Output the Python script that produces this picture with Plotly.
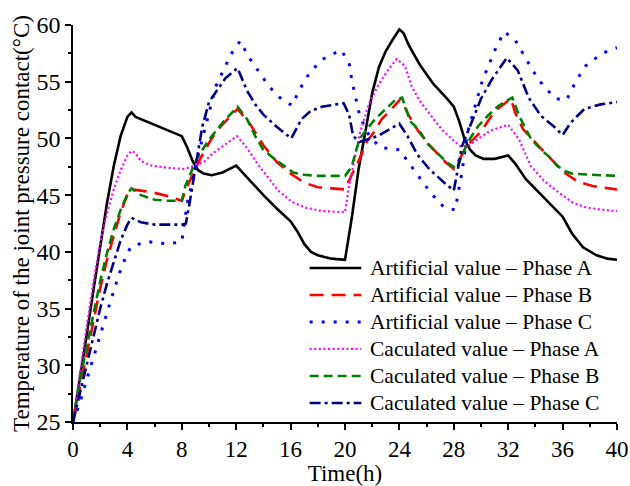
import plotly.graph_objects as go

# ---- data ----
t_art_a = [0, 0.5, 1, 1.5, 2, 2.5, 3, 3.5, 4, 4.3, 4.6, 5, 6, 7, 8, 8.4, 8.8, 9.2, 9.6, 10.2, 11, 12,
           13, 14, 15, 16, 16.5, 17, 17.5, 18, 19, 20, 20.5, 21, 21.5, 22, 22.5, 23, 23.5, 24, 24.3,
           24.7, 25.5, 26.5, 27.5, 28, 28.4, 28.8, 29.2, 29.6, 30.2, 31, 32, 32.5, 33.3, 34.5, 36,
           36.7, 37.5, 38.5, 39.3, 40]
v_art_a = [25, 28.6, 32.6, 36.6, 40.6, 44.3, 47.6, 50.2, 51.9, 52.3, 51.9, 51.7, 51.2, 50.7, 50.2, 49.2,
           48.0, 47.2, 46.9, 46.75, 47.0, 47.6, 46.3, 45.0, 43.8, 42.7, 41.8, 40.7, 40.0, 39.7, 39.4,
           39.3, 43.0, 47.3, 50.6, 54.0, 56.3, 57.7, 58.7, 59.6, 59.3, 58.2, 56.5, 54.8, 53.5, 52.8,
           51.5, 49.9, 49.0, 48.5, 48.2, 48.2, 48.5, 47.8, 46.4, 44.9, 43.1, 41.6, 40.4, 39.7, 39.4, 39.3]

t_art_b = [0, 0.5, 1, 1.5, 2, 2.5, 3, 3.5, 4, 4.3, 5, 6, 7, 8, 8.4, 9, 9.4, 10, 10.6, 11.6, 12.1, 13, 14,
           15, 16, 17, 18, 19, 20, 20.5, 21, 21.6, 22.1, 22.7, 23.2, 24.1, 24.7, 25.3, 26, 26.7, 27.4,
           28, 28.5, 29, 30, 31, 32.2, 32.5, 33.1, 34, 34.5, 35.3, 36, 37.1, 38.2, 39.4, 40]
v_art_b = [25, 28.0, 30.9, 33.9, 36.8, 39.3, 41.5, 43.5, 45.0, 45.5, 45.4, 45.2, 44.9, 44.5, 45.8, 47.3,
           48.3, 49.6, 50.7, 52.0, 52.6, 51.3, 49.4, 47.9, 46.9, 46.1, 45.7, 45.6, 45.5, 46.8, 48.0,
           49.7, 50.5, 51.7, 52.3, 53.5, 52.0, 50.8, 49.7, 48.8, 47.9, 47.3, 48.3, 49.4, 50.6, 52.4,
           53.5, 52.3, 50.8, 49.7, 49.0, 48.0, 47.1, 46.2, 45.8, 45.6, 45.5]

t_art_c = [0, 0.5, 1, 1.5, 2, 2.5, 3, 3.5, 4, 4.3, 5.5, 7, 8, 8.4, 8.75, 9.2, 9.6, 10.1, 10.5, 11.1, 11.6,
           12.3, 12.9, 13.6, 14.4, 15.2, 16.1, 16.7, 17.45, 18.4, 19.7, 20.3, 20.5, 20.8, 21.1, 21.8,
           22.6, 24, 24.8, 25.55, 26.3, 27.3, 28.1, 28.6, 29, 30.1, 31.1, 31.7, 32.5, 33.8, 34.6,
           35.5, 36.3, 37, 37.7, 38.9, 40]
v_art_c = [25, 26.7, 28.7, 30.7, 32.8, 34.8, 36.6, 38.4, 39.9, 40.5, 40.9, 40.7, 40.9, 44.3, 46.0, 48.5,
           50.4, 52.9, 54.6, 56.1, 57.4, 58.6, 57.2, 56.0, 54.6, 53.6, 52.9, 54.4, 55.9, 57.0, 57.8,
           56.7, 55.1, 53.5, 51.9, 50.2, 49.2, 49.0, 47.7, 46.4, 45.2, 43.9, 43.7, 47.0, 50.5, 55.1,
           58.0, 59.4, 58.7, 56.0, 54.6, 53.5, 53.4, 55.1, 56.4, 57.5, 58.0]

t_cal_a = [0, 0.5, 1, 1.5, 2, 2.5, 3, 3.5, 4, 4.3, 4.6, 5, 5.8, 7, 8.2, 8.9, 9.6, 10.3, 11.2, 12.05, 12.5,
           13, 13.6, 14.4, 15.1, 16.1, 17.1, 18.3, 20, 20.3, 20.7, 21.1, 21.75, 22.4, 23.2, 23.8, 24.4,
           24.9, 25.5, 26.3, 27.1, 28, 28.5, 29.2, 29.7, 30.7, 32, 32.8, 33.65, 34.6, 35.75, 36.8,
           37.8, 39, 40]
v_cal_a = [25, 29.3, 33.4, 37.3, 40.8, 43.4, 45.5, 47.2, 48.5, 48.9, 48.7, 48.0, 47.6, 47.4, 47.3, 47.6,
           47.9, 48.7, 49.5, 50.2, 49.6, 48.8, 47.7, 46.5, 45.4, 44.4, 43.9, 43.6, 43.5, 45.8, 48.3,
           50.5, 53.0, 54.6, 56.1, 57.0, 56.4, 54.6, 53.3, 52.0, 50.8, 49.8, 49.3, 49.4, 49.9, 50.7,
           51.2, 49.9, 47.6, 46.3, 45.2, 44.3, 43.9, 43.7, 43.6]

t_cal_b = [0, 0.5, 1, 1.5, 2, 2.5, 3, 3.5, 4, 4.3, 5, 6, 7, 8, 8.25, 9.1, 10, 11, 12.1, 12.8, 13.4, 14,
           14.7, 15.5, 16.2, 17, 18, 20, 20.5, 20.8, 21.1, 21.6, 22.2, 23.1, 23.7, 24.2, 24.8, 25.4,
           26.1, 26.7, 27.5, 28.2, 28.7, 29.2, 29.8, 30.5, 31.2, 32, 32.3, 32.8, 33.3, 33.7, 34.2,
           34.6, 35, 35.6, 36.2, 36.7, 38, 40]
v_cal_b = [25, 28.6, 31.6, 34.6, 37.4, 39.9, 42.0, 43.7, 45.1, 45.6, 45.0, 44.6, 44.5, 44.5, 45.8, 48.2,
           49.9, 51.4, 52.8, 51.7, 50.2, 49.0, 48.3, 47.6, 47.0, 46.8, 46.7, 46.7, 47.5, 48.9, 50.0,
           50.8, 51.7, 52.7, 53.4, 53.6, 51.5, 50.8, 49.5, 48.8, 47.9, 47.3, 48.8, 50.0, 51.1, 52.0,
           52.8, 53.4, 53.6, 52.0, 50.8, 49.9, 49.3, 48.8, 48.4, 47.6, 47.1, 46.9, 46.8, 46.7]

t_cal_c = [0, 0.5, 1, 1.5, 2, 2.5, 3, 3.5, 4, 4.3, 5, 6, 8, 8.3, 8.6, 9.0, 9.5, 10, 10.5, 11.2, 12.1, 12.8,
           13.4, 14, 15, 15.6, 16.05, 16.8, 17.45, 18.3, 19.3, 19.9, 20.3, 20.6, 21.1, 22.4, 24, 24.6,
           25.3, 26.2, 27.3, 28, 28.25, 28.6, 29.2, 30, 30.8, 31.9, 32.7, 33.5, 34.4, 35.4, 36, 36.6,
           37.6, 38.8, 40]
v_cal_c = [25, 27.5, 30.0, 32.5, 35.0, 37.2, 39.2, 41.0, 42.4, 43.0, 42.6, 42.4, 42.4, 42.5, 44.5, 47.5,
           51.0, 53.2, 54.1, 55.3, 56.2, 54.2, 53.0, 52.1, 51.0, 50.4, 50.0, 51.7, 52.4, 52.8, 53.0,
           53.1, 52.1, 50.2, 49.7, 50.2, 51.3, 50.2, 48.6, 47.3, 46.1, 45.4, 47.0, 49.3, 51.1, 53.5,
           55.2, 57.1, 56.0, 53.6, 52.0, 51.0, 50.3, 51.4, 52.6, 53.0, 53.2]

names = ["Artificial value – Phase A", "Artificial value – Phase B", "Artificial value – Phase C",
         "Caculated value – Phase A", "Caculated value – Phase B", "Caculated value – Phase C"]
x_ticks = [0, 4, 8, 12, 16, 20, 24, 28, 32, 36, 40]
y_ticks = [25, 30, 35, 40, 45, 50, 55, 60]

series = [(t_art_a, v_art_a), (t_art_b, v_art_b), (t_art_c, v_art_c),
          (t_cal_a, v_cal_a), (t_cal_b, v_cal_b), (t_cal_c, v_cal_c)]
styles = [("#000000", "solid", 2.6), ("#ff0000", "14px,8px", 2.6), ("#0000ff", "3px,9px", 3.0),
          ("#ff00ff", "2px,2.6px", 2.2), ("#008000", "9px,5px", 2.6), ("#000080", "11px,4px,3px,4px", 2.6)]

FONT = "Liberation Serif, Times New Roman, serif"

fig = go.Figure()
for (tx, vy), name, (col, dash, w) in zip(series, names, styles):
    fig.add_trace(go.Scatter(x=tx, y=vy, mode="lines", name=name, showlegend=False,
                             line=dict(color=col, dash=dash, width=w)))

# custom legend (paper coordinates), compact rows like the reference
leg_x0, leg_x1, leg_tx = 0.435, 0.53, 0.543
leg_top, leg_step = 0.388, 0.068
for i, (name, (col, dash, w)) in enumerate(zip(names, styles)):
    yy = leg_top - i * leg_step
    fig.add_shape(type="line", xref="paper", yref="paper", x0=leg_x0, x1=leg_x1, y0=yy, y1=yy,
                  line=dict(color=col, dash=dash, width=w))
    fig.add_annotation(xref="paper", yref="paper", x=leg_tx, y=yy, text=name, showarrow=False,
                       xanchor="left", yanchor="middle",
                       font=dict(family=FONT, size=21.5, color="black"))

fig.update_layout(
    width=630, height=486,
    margin=dict(l=73, r=13, t=25, b=64),
    paper_bgcolor="white", plot_bgcolor="white",
    font=dict(family=FONT, color="black"),
    showlegend=False,
    xaxis=dict(range=[0, 40], tickvals=x_ticks, showgrid=False, zeroline=False, automargin=False,
               showline=True, linecolor="black", linewidth=1.5,
               ticks="outside", ticklen=6, tickwidth=1.5, tickcolor="black",
               minor=dict(dtick=2, ticks="outside", ticklen=3, tickwidth=1.5, tickcolor="black"),
               tickfont=dict(family=FONT, size=23, color="black"),
               title=dict(text="Time(h)", font=dict(family=FONT, size=23, color="black"), standoff=4)),
    yaxis=dict(range=[25, 60], tickvals=y_ticks, showgrid=False, zeroline=False, automargin=False,
               showline=True, linecolor="black", linewidth=1.5,
               ticks="outside", ticklen=6, tickwidth=1.5, tickcolor="black",
               minor=dict(dtick=2.5, ticks="outside", ticklen=3, tickwidth=1.5, tickcolor="black"),
               tickfont=dict(family=FONT, size=24, color="black"),
               title=dict(text="Temperature of the joint pressure contact(°C)",
                          font=dict(family=FONT, size=23, color="black"), standoff=0)),
)

fig.write_html("out.html")
